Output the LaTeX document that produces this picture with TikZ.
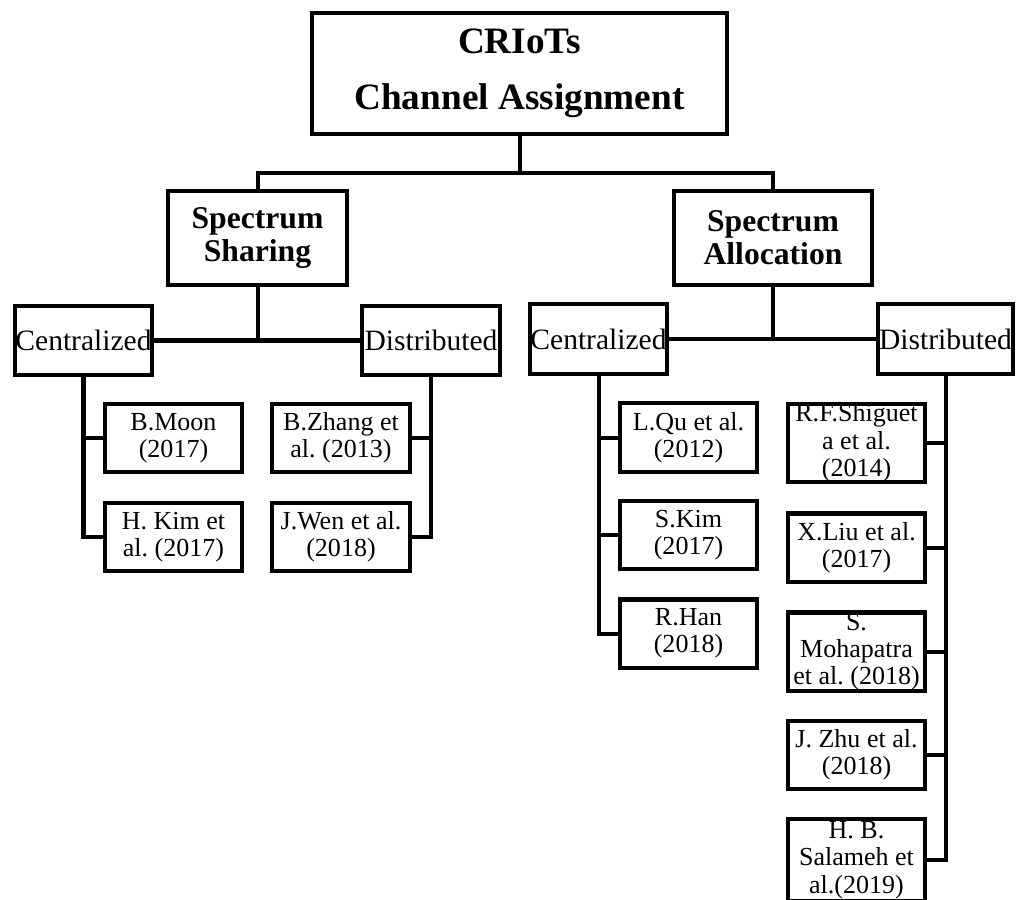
\documentclass[tikz,border=0pt]{standalone}
\usepackage{fontspec}
\setmainfont{Liberation Serif}
\frenchspacing
\tikzset{
  box/.style={draw, line width=2.85pt, align=center, inner sep=0pt},
  ref/.style={box, minimum width=3.425cm, minimum height=1.7cm, font=\fontsize{18.5}{19.4}\selectfont},
  ref3/.style={ref, minimum height=1.95cm},
  kind/.style={box, minimum height=1.725cm, font=\fontsize{21}{24}\selectfont},
  link/.style={line width=2.85pt}
}
\begin{document}
\begin{tikzpicture}[x=0.025cm, y=-0.025cm]
\useasboundingbox (0,0) rectangle (1016,899);
\node[box, minimum width=10.375cm, minimum height=3.025cm, font=\fontsize{26.5}{40}\selectfont\bfseries] (root) at (519.5,73.5) {CRIoTs\\Channel Assignment};
\node[box, minimum width=4.475cm, minimum height=2.35cm, font=\fontsize{22.5}{23.5}\selectfont\bfseries] (share) at (257.5,238) {Spectrum\\Sharing};
\node[box, minimum width=4.95cm, minimum height=2.35cm, font=\fontsize{22.5}{23.5}\selectfont\bfseries] (alloc) at (773,238) {Spectrum\\Allocation};
\coordinate (j0) at (519.5,173);
\draw[link] (root) -- (j0);
\draw[link] (share) |- (j0) -| (alloc);

\node[kind, minimum width=3.425cm] (shcen) at (83.5,340.5) {Centralized};
\node[kind, minimum width=3.45cm] (shdis) at (431,340.5) {Distributed};
\node[kind, minimum width=3.425cm] (alcen) at (598.5,339) {Centralized};
\node[kind, minimum width=3.375cm] (aldis) at (945.5,339) {Distributed};
\draw[link] (share) -- (share |- shcen);
\draw[link] (shcen) -- (shdis);
\draw[link] (alloc) -- (alloc |- alcen);
\draw[link] (alcen) -- (aldis);

\node[ref] (moon) at (173.5,438) {B.Moon\\(2017)};
\node[ref] (hkim) at (173.5,537) {H. Kim et\\al. (2017)};
\node[ref] (zhang) at (341,438) {B.Zhang et\\al. (2013)};
\node[ref] (wen) at (341,537) {J.Wen et al.\\(2018)};
\draw[link] (shcen) |- (moon);
\draw[link] (shcen) |- (hkim);
\draw[link] (shdis) |- (zhang);
\draw[link] (shdis) |- (wen);

\node[ref] (qu) at (688.5,437.5) {L.Qu et al.\\(2012)};
\node[ref] (skim) at (688.5,535) {S.Kim\\(2017)};
\node[ref] (han) at (688.5,633.5) {R.Han\\(2018)};
\draw[link] (alcen) |- (qu);
\draw[link] (alcen) |- (skim);
\draw[link] (alcen) |- (han);

\node[ref3] (shigueta) at (856.5,443) {R.F.Shiguet\\a et al.\\(2014)};
\node[ref] (liu) at (856.5,547.5) {X.Liu et al.\\(2017)};
\node[ref3] (mohapatra) at (856.5,651.5) {S.\\Mohapatra\\et al. (2018)};
\node[ref] (zhu) at (856.5,755) {J. Zhu et al.\\(2018)};
\node[ref3, minimum height=2.05cm] (salameh) at (856.5,860) {H. B.\\Salameh et\\al.(2019)};
\draw[link] (aldis) |- (shigueta);
\draw[link] (aldis) |- (liu);
\draw[link] (aldis) |- (mohapatra);
\draw[link] (aldis) |- (zhu);
\draw[link] (aldis) |- (salameh);
\end{tikzpicture}
\end{document}
